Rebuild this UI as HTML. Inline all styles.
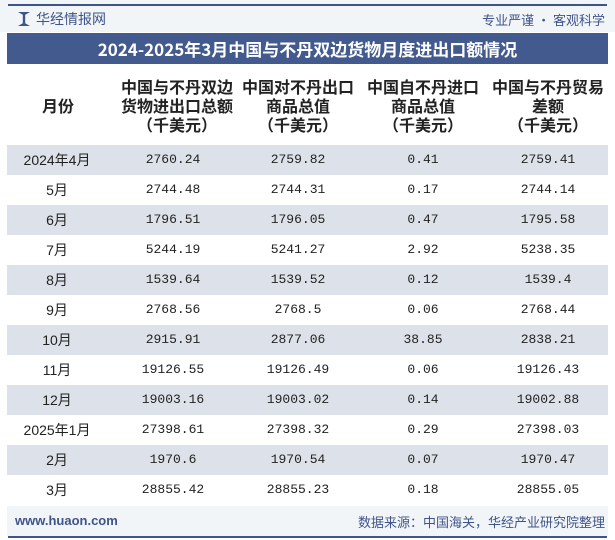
<!DOCTYPE html>
<html><head><meta charset="utf-8">
<style>
body{margin:0;width:615px;height:540px;background:#fff;font-family:"Liberation Sans","Noto Sans CJK SC",sans-serif;position:relative;overflow:hidden}
.abs{position:absolute}
.hdr{position:absolute;top:0;width:615px;height:32px;background:#f2f5f8}
.cell{position:absolute;transform:translateX(-50%);white-space:nowrap;font-family:"Liberation Mono","Noto Sans CJK SC",monospace;font-size:13px;color:#222;line-height:16px}
.h{position:absolute;transform:translateX(-50%);text-align:center;font-weight:bold;font-size:16px;line-height:19px;color:#222;font-family:"Noto Sans CJK SC",sans-serif;white-space:nowrap}
</style></head><body>
<div class="hdr"></div>
<div class="abs" style="left:8px;top:4px;width:599px;height:2px;background:#3f5488"></div>
<div class="abs" style="left:18px;top:12px;width:12px;height:14px;background:#3f5488;clip-path:polygon(0 0,40% 20%,40% 80%,0 100%,100% 100%,60% 80%,60% 20%,100% 0)"></div>
<div class="abs" style="left:36px;top:9px;font-size:14px;color:#3f5488;font-family:'Noto Sans CJK SC',sans-serif">华经情报网</div>
<div class="abs" style="right:10px;top:10px;font-size:13px;color:#3f5488;font-family:'Noto Sans CJK SC',sans-serif">专业严谨 • 客观科学</div>
<div class="abs" style="left:7px;top:33px;width:601px;height:31px;background:#435a8f;color:#fff;font-weight:bold;font-size:17px;line-height:31px;text-align:center;font-family:'Noto Sans CJK SC',sans-serif">2024-2025年3月中国与不丹双边货物月度进出口额情况</div>
<div class="h" style="left:58px;top:96px">月份</div>
<div class="h" style="left:177px;top:77px">中国与不丹双边<br>货物进出口总额<br>（千美元）</div>
<div class="h" style="left:298px;top:77px">中国对不丹出口<br>商品总值<br>（千美元）</div>
<div class="h" style="left:423px;top:77px">中国自不丹进口<br>商品总值<br>（千美元）</div>
<div class="h" style="left:548px;top:77px">中国与不丹贸易<br>差额<br>（千美元）</div>
<div id="rows"></div>
<div class="abs" style="left:7px;top:506px;width:601px;height:30px;background:#f2f5f8"></div>
<div class="abs" style="left:15px;top:513px;font-size:13px;font-weight:bold;color:#3f5488">www.huaon.com</div>
<div class="abs" style="right:10px;top:512px;font-size:13px;color:#3f5488;font-family:'Noto Sans CJK SC',sans-serif">数据来源：中国海关，华经产业研究院整理</div>
<div class="abs" style="left:8px;top:536px;width:599px;height:2px;background:#3f5488"></div>
<script>
const months=["2024年4月","5月","6月","7月","8月","9月","10月","11月","12月","2025年1月","2月","3月"];
const totals=["2760.24","2744.48","1796.51","5244.19","1539.64","2768.56","2915.91","19126.55","19003.16","27398.61","1970.6","28855.42"];
const exportsV=["2759.82","2744.31","1796.05","5241.27","1539.52","2768.5","2877.06","19126.49","19003.02","27398.32","1970.54","28855.23"];
const importsV=["0.41","0.17","0.47","2.92","0.12","0.06","38.85","0.06","0.14","0.29","0.07","0.18"];
const balances=["2759.41","2744.14","1795.58","5238.35","1539.4","2768.44","2838.21","19126.43","19002.88","27398.03","1970.47","28855.05"];
const root=document.getElementById('rows');
const cx=[57,173,298,423,548];
months.forEach((m,i)=>{
  const y=145+i*30;
  const r=document.createElement('div');
  
  
  r.className='abs';
  r.style.cssText=`left:7px;top:${y}px;width:601px;height:30px;background:${i%2==0?'#dde2ea':'#fff'}`;
  root.appendChild(r);
  [m,totals[i],exportsV[i],importsV[i],balances[i]].forEach((v,j)=>{
    const c=document.createElement('div');
    
    
    c.className='cell';
    c.style.left=cx[j]+'px';c.style.top=(y+7)+'px';
    if(j==0){c.style.fontFamily='"Liberation Sans","Noto Sans CJK SC",sans-serif';c.style.fontSize='14px';}
    c.textContent=v;root.appendChild(c);
  });
});
</script>
</body></html>
